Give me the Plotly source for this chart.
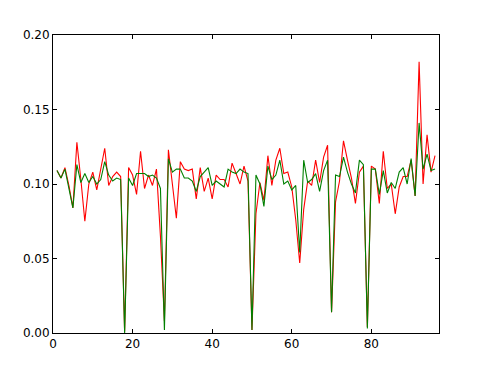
import plotly.graph_objects as go

x_vals = list(range(1, 97))

red_vals = [
    0.109, 0.104, 0.111, 0.099, 0.084, 0.128, 0.103, 0.075, 0.100, 0.108,
    0.096, 0.110, 0.124, 0.099, 0.105, 0.108, 0.105, 0.001, 0.111, 0.106,
    0.093, 0.122, 0.097, 0.106, 0.099, 0.110, 0.065, 0.008, 0.123, 0.100,
    0.077, 0.115, 0.110, 0.109, 0.110, 0.090, 0.111, 0.095, 0.104, 0.090,
    0.106, 0.103, 0.103, 0.098, 0.114, 0.107, 0.100, 0.112, 0.102, 0.002,
    0.080, 0.101, 0.089, 0.119, 0.099, 0.116, 0.124, 0.107, 0.108, 0.098,
    0.076, 0.047, 0.083, 0.102, 0.099, 0.116, 0.101, 0.118, 0.126, 0.014,
    0.088, 0.102, 0.129, 0.116, 0.104, 0.087, 0.108, 0.112, 0.004, 0.112,
    0.110, 0.087, 0.122, 0.097, 0.100, 0.080, 0.098, 0.105, 0.105, 0.116,
    0.092, 0.182, 0.100, 0.133, 0.108, 0.119,
]

green_vals = [
    0.109, 0.104, 0.110, 0.098, 0.084, 0.113, 0.101, 0.107, 0.101, 0.105,
    0.100, 0.103, 0.115, 0.106, 0.102, 0.104, 0.103, 0.000, 0.104, 0.099,
    0.107, 0.107, 0.107, 0.105, 0.106, 0.104, 0.097, 0.002, 0.117, 0.108,
    0.110, 0.110, 0.104, 0.104, 0.102, 0.095, 0.105, 0.108, 0.111, 0.099,
    0.102, 0.100, 0.098, 0.110, 0.108, 0.107, 0.110, 0.108, 0.107, 0.002,
    0.106, 0.100, 0.085, 0.112, 0.103, 0.106, 0.116, 0.100, 0.102, 0.096,
    0.099, 0.054, 0.116, 0.101, 0.103, 0.107, 0.095, 0.109, 0.116, 0.014,
    0.106, 0.105, 0.118, 0.108, 0.100, 0.094, 0.116, 0.113, 0.003, 0.110,
    0.110, 0.093, 0.109, 0.094, 0.101, 0.097, 0.108, 0.111, 0.100, 0.117,
    0.092, 0.141, 0.110, 0.120, 0.109, 0.110,
]

x_ticks = [0, 20, 40, 60, 80]
y_ticks = [0.0, 0.05, 0.10, 0.15, 0.20]

fig = go.Figure()
fig.add_trace(go.Scatter(x=x_vals, y=red_vals, mode="lines",
                         line=dict(color="#ff0000", width=1.1)))
fig.add_trace(go.Scatter(x=x_vals, y=green_vals, mode="lines",
                         line=dict(color="#008000", width=1.1)))

axis_style = dict(
    showgrid=False, zeroline=False,
    showline=True, linecolor="black", linewidth=1, mirror="ticks",
    ticks="inside", ticklen=4, tickcolor="black", tickwidth=1,
    tickfont=dict(family="DejaVu Sans", size=12, color="black"),
)

# the page body adds an 8px margin, so the figure is a bit smaller
fig.update_layout(
    width=471, height=360,
    margin=dict(l=45, r=40, t=27, b=35),
    paper_bgcolor="white", plot_bgcolor="white",
    showlegend=False,
    xaxis=dict(range=[0, 97], tickvals=x_ticks, **axis_style),
    yaxis=dict(range=[0, 0.2], tickvals=y_ticks, tickformat=".2f", **axis_style),
)

fig.write_html("out.html")
